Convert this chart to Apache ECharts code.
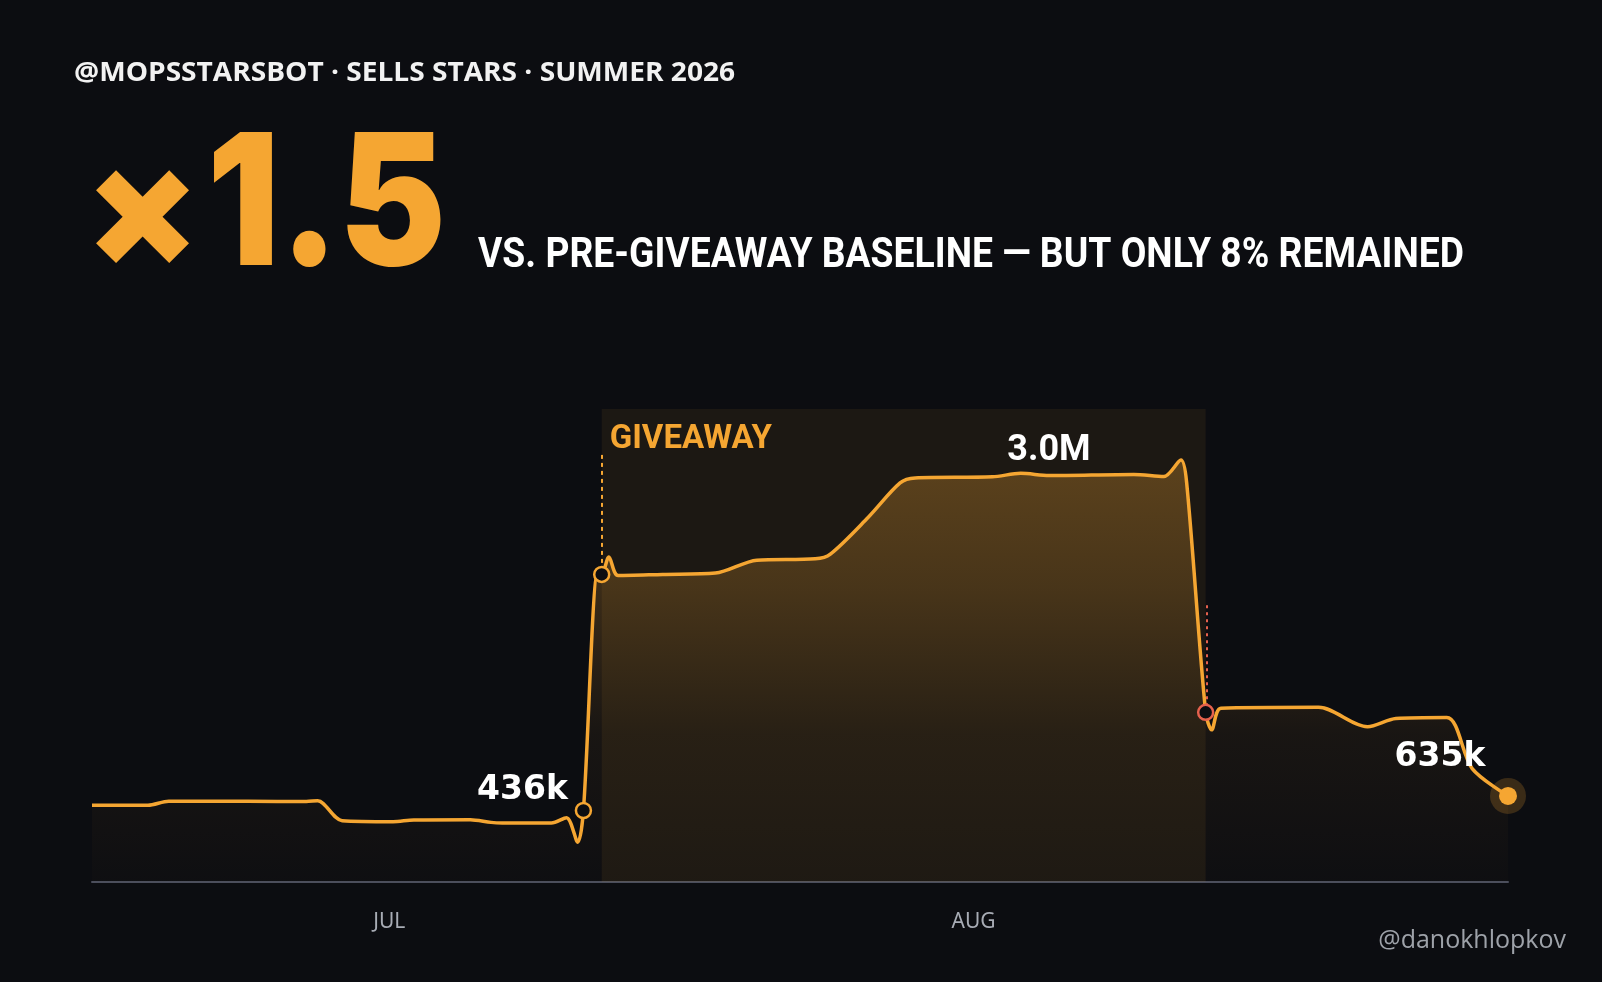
<!DOCTYPE html>
<html lang="en">
<head>
  <meta charset="UTF-8">
  <title>@mopsstarsbot - sells stars</title>
  <script src="https://cdn.jsdelivr.net/npm/echarts@6/dist/echarts.min.js"></script>
  <style>
    html, body { margin: 0; padding: 0; background: #0c0d11; }
    #main { width: 1602px; height: 982px; }
  </style>
</head>
<body>
  <div id="main"></div>
  <script>
    // x = days since Jul 1, y = stars sold (thousands)
    var days = [-15.77, -12.8, -11.7, -7.5, -4.4, -3.8, -2.5, 0.2, 1.3, 4.3, 5.4, 6.0, 8.6, 9.4, 10.0, 10.3,
                11.06, 11.27, 11.65, 12.14, 14.5, 17.3, 19.5, 22.6, 23.4, 25.4, 27.1, 27.9, 32.0, 33.5, 35.0,
                39.5, 41.1, 42.0, 42.3, 43.31, 43.63, 44.12, 49.3, 51.9, 53.4, 56.1, 57.45, 59.35];
    var stars = [566, 566, 596, 596, 594, 600, 452, 445, 458, 460, 440, 436, 436, 475, 294, 528,
                 2285, 2270, 2398, 2262, 2270, 2280, 2375, 2385, 2420, 2690, 2945, 2982, 2990, 3016, 3000,
                 3008, 2993, 3114, 2950, 1252, 1123, 1282, 1289, 1146, 1206, 1214, 837, 635];
    var monthDays = [0, 31];
    var monthNames = ['JUL', 'AUG'];
    var giveaway = [11.27, 43.31];   // start / end day of the giveaway
    var baseIdx = 15, startIdx = 17, endIdx = 35, lastIdx = days.length - 1;
    var peak = [35, 3000];

    var orange = '#f5a632';
    var red = '#e5614d';
    var bg = '#0c0d11';

    var data = days.map(function (d, i) { return [d, stars[i]]; });
    function pt(i) { return data[i]; }

    var chart = echarts.init(document.getElementById('main'));

    var option = {
      backgroundColor: bg,
      animation: false,
      grid: { left: 92, right: 94, top: 340, bottom: 100 },
      xAxis: {
        type: 'value',
        min: -15.77,
        max: 59.35,
        axisLine: { show: true, lineStyle: { color: '#4b4e5c', width: 2 } },
        axisTick: { show: false },
        splitLine: { show: false },
        axisLabel: {
          customValues: monthDays,
          margin: 30,
          color: '#a8acb5',
          fontSize: 21,
          fontFamily: 'Noto Sans',
          formatter: function (v) { return monthNames[monthDays.indexOf(v)] || ''; }
        }
      },
      yAxis: { type: 'value', min: 0, max: 4000, show: false },
      graphic: [
        {
          type: 'text', x: 74, y: 74, scaleX: 1.08,
          style: {
            text: '@MOPSSTARSBOT · SELLS STARS · SUMMER 2026',
            fill: '#f2f2f2', font: 'bold 26px "Open Sans"', verticalAlign: 'middle'
          }
        },
        {
          type: 'text', x: 85, y: 216,
          style: { text: '×', fill: orange, font: '900 166px Inter', verticalAlign: 'middle' }
        },
        {
          type: 'text', x: 207, y: 210, scaleX: 0.875,
          style: { text: '1.5', fill: orange, font: '900 183px Inter', verticalAlign: 'middle' }
        },
        {
          type: 'text', x: 478, y: 256, scaleX: 0.888,
          style: {
            text: 'VS. PRE-GIVEAWAY BASELINE — BUT ONLY 8% REMAINED',
            fill: '#ffffff', font: 'bold 42px Roboto', verticalAlign: 'middle'
          }
        },
        {
          type: 'text', x: 1566, y: 941,
          style: {
            text: '@danokhlopkov', fill: '#9ea2a9', font: '25px "Open Sans"',
            align: 'right', verticalAlign: 'middle'
          }
        }
      ],
      series: [{
        type: 'line',
        data: data,
        smooth: 0.3,
        symbol: 'none',
        lineStyle: { color: orange, width: 3.5 },
        areaStyle: {
          color: new echarts.graphic.LinearGradient(0, 0, 0, 1, [
            { offset: 0, color: 'rgba(245,166,50,0.42)' },
            { offset: 0.3, color: 'rgba(245,166,50,0.29)' },
            { offset: 0.65, color: 'rgba(245,166,50,0.08)' },
            { offset: 1, color: 'rgba(245,166,50,0.015)' }
          ])
        },
        markArea: {
          silent: true,
          itemStyle: { color: 'rgba(245,166,50,0.07)' },
          label: {
            show: true, position: 'insideTopLeft', distance: 0, offset: [8, 14],
            color: orange, fontFamily: 'Roboto', fontWeight: 'bold', fontSize: 33
          },
          data: [[
            { name: 'GIVEAWAY', xAxis: giveaway[0], yAxis: 3491 },
            { xAxis: giveaway[1], yAxis: 0 }
          ]]
        },
        markLine: {
          silent: true,
          symbol: 'none',
          label: { show: false },
          data: [
            [{ coord: [giveaway[0], 3152], lineStyle: { color: orange, type: [4, 4], width: 2 } },
             { coord: [giveaway[0], stars[startIdx]] }],
            [{ coord: [giveaway[1] + 0.05, 2043], lineStyle: { color: red, type: [3, 4], width: 2 } },
             { coord: [giveaway[1] + 0.05, stars[endIdx]] }]
          ]
        },
        markPoint: {
          silent: true,
          symbol: 'circle',
          label: { show: false },
          data: [
            {
              coord: pt(baseIdx), symbolSize: 15,
              itemStyle: { color: bg, borderColor: orange, borderWidth: 2.5 },
              label: {
                show: true, formatter: '436k', offset: [-61, -20],
                color: '#ffffff', fontFamily: 'DejaVu Sans', fontWeight: 'bold', fontSize: 33
              }
            },
            {
              coord: pt(startIdx), symbolSize: 15,
              itemStyle: { color: bg, borderColor: orange, borderWidth: 2.5 }
            },
            {
              coord: pt(endIdx), symbolSize: 15,
              itemStyle: { color: bg, borderColor: red, borderWidth: 2.5 }
            },
            {
              coord: pt(lastIdx), symbolSize: 36,
              itemStyle: { color: 'rgba(245,166,50,0.2)' }
            },
            {
              coord: pt(lastIdx), symbolSize: 18,
              itemStyle: { color: orange },
              label: {
                show: true, formatter: '635k', offset: [-68, -39],
                color: '#ffffff', fontFamily: 'DejaVu Sans', fontWeight: 'bold', fontSize: 33
              }
            },
            {
              coord: peak, symbolSize: 1,
              itemStyle: { color: 'rgba(0,0,0,0)' },
              label: {
                show: true, formatter: '3.0M', offset: [0, -25],
                color: '#ffffff', fontFamily: 'Roboto', fontWeight: 'bold', fontSize: 36
              }
            }
          ]
        }
      }]
    };

    chart.setOption(option);
  </script>
</body>
</html>
